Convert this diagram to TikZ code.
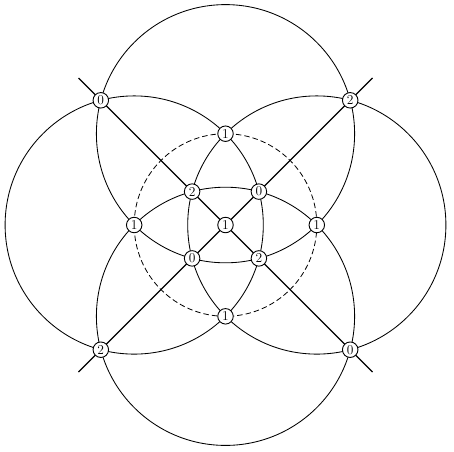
\documentclass[tikz,border=0pt]{standalone}
\begin{document}
\begin{tikzpicture}[x=1pt,y=-1pt,
  pt/.style={circle,draw,fill=white,inner sep=0pt,minimum size=15.5pt,line width=0.9pt,font=\fontsize{13.5}{13.5}\selectfont},
  curve/.style={line width=0.85pt},
  dashcurve/.style={line width=0.8pt,dash pattern=on 5.5pt off 3pt},
  diag/.style={line width=1.25pt}]
\useasboundingbox (0,0) rectangle (454,451);
% centres of the four large circles
\coordinate (cN) at (225.5,133.7);
\coordinate (cS) at (225.5,316.3);
\coordinate (cW) at (134.2,225);
\coordinate (cE) at (316.8,225);
\coordinate (cO) at (225.5,225);
% ends of the diagonals
\coordinate (dTL) at (78.5,78);
\coordinate (dBR) at (372.5,372);
\coordinate (dTR) at (372.5,78);
\coordinate (dBL) at (78.5,372);
% circles
\draw[dashcurve] (cO) circle[radius=91.3pt];
\foreach \c in {cN,cS,cW,cE}
  \draw[curve] (\c) circle[radius=129.1pt];
% diagonals
\draw[diag] (dTL) -- (dBR);
\draw[diag] (dTR) -- (dBL);
% labelled points
\node[pt] (n1N) at (cN) {1};
\node[pt] (n1S) at (cS) {1};
\node[pt] (n1W) at (cW) {1};
\node[pt] (n1E) at (cE) {1};
\node[pt] (n1C) at (cO) {1};
\node[pt] (oTL) at (100.8,100.3) {0};
\node[pt] (oTR) at (350.2,100.3) {2};
\node[pt] (oBL) at (100.8,349.7) {2};
\node[pt] (oBR) at (350.2,349.7) {0};
\node[pt] (iTL) at (192.1,191.6) {2};
\node[pt] (iTR) at (258.9,191.6) {0};
\node[pt] (iBL) at (192.1,258.4) {0};
\node[pt] (iBR) at (258.9,258.4) {2};
\end{tikzpicture}
\end{document}
